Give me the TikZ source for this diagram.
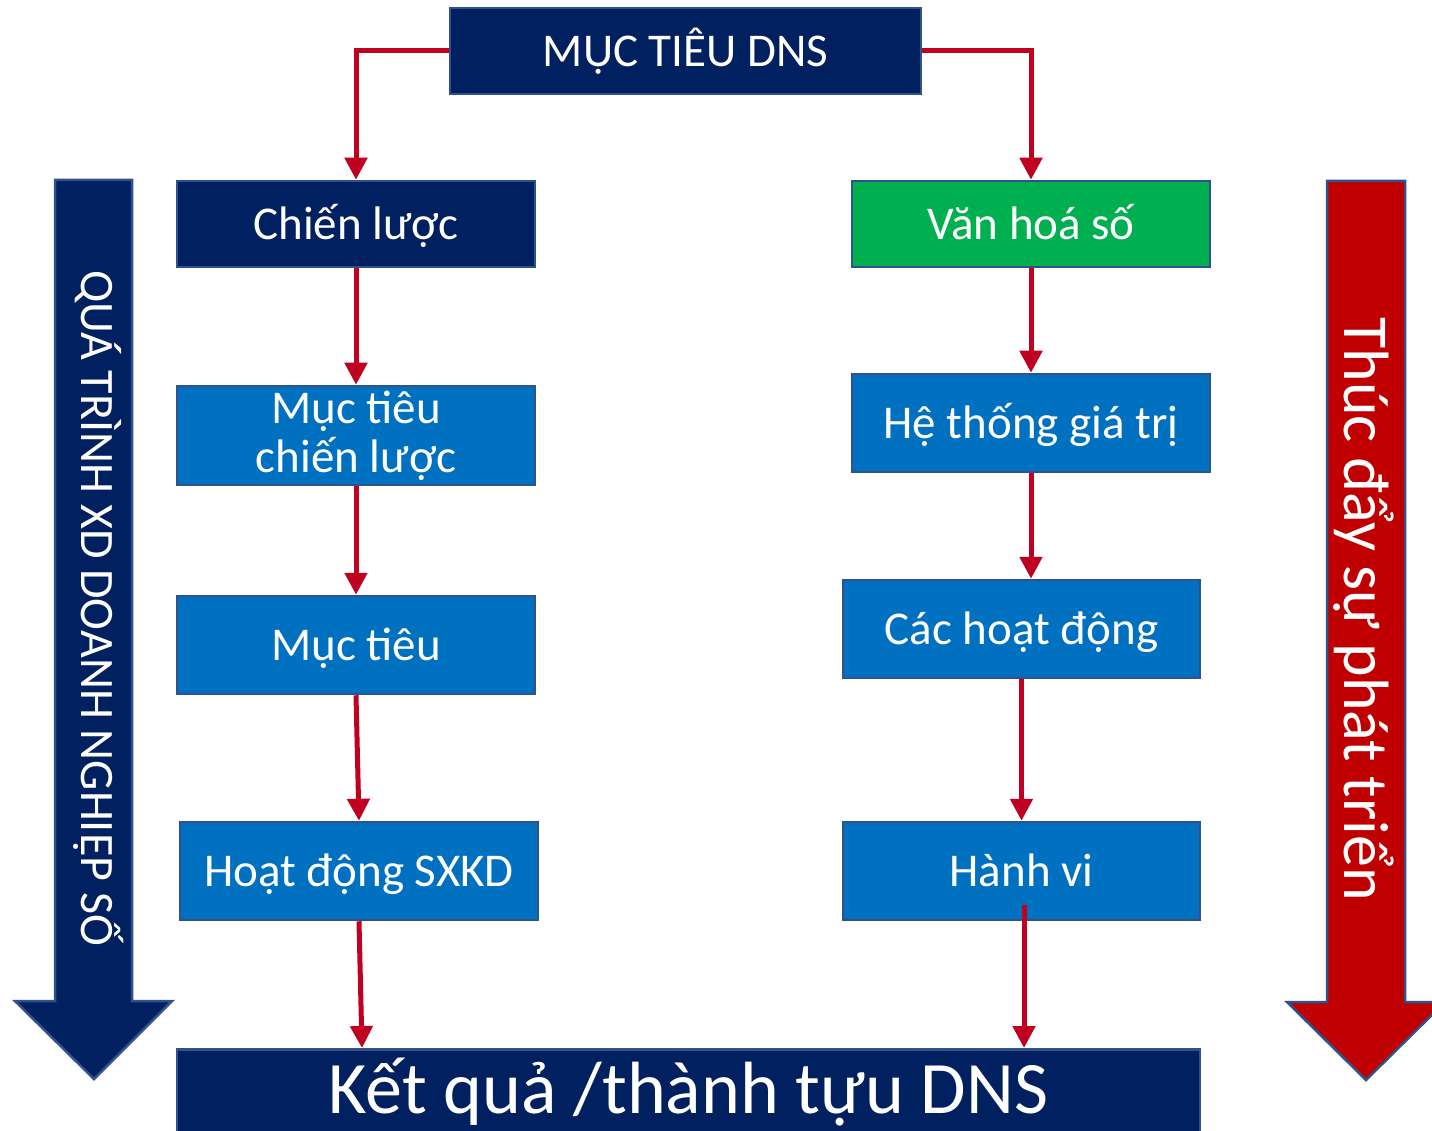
\documentclass[tikz,border=0pt]{standalone}
\usepackage{fontspec}
\setmainfont{Carlito}
\usetikzlibrary{arrows.meta,calc}
\definecolor{navy}{RGB}{0,32,96}
\definecolor{midblue}{RGB}{0,112,192}
\definecolor{okgreen}{RGB}{0,176,80}
\definecolor{darkred}{RGB}{192,0,0}
\definecolor{linkred}{RGB}{192,0,32}
\definecolor{edgeblue}{RGB}{47,82,143}
\tikzset{
  box/.style={draw=edgeblue, line width=2.5pt, text=white, align=center,
    inner sep=0pt, font=\fontsize{47}{49}\selectfont},
  oneline/.style={text height=31pt, text depth=0pt},
  link/.style={draw=linkred, line width=5pt,
    -{Triangle[width=22pt,length=22pt]}},
  bigarrow/.style={draw=edgeblue, line width=2.5pt, line join=miter},
}
\begin{document}
\begin{tikzpicture}[x=1pt,y=-1pt]
\useasboundingbox (0,0) rectangle (1432,1131);
\clip (0,0) rectangle (1432,1131);

% big side arrows
\draw[bigarrow, fill=navy] (55,180) -- (132,180) -- (132,1001) -- (172,1001) -- (94,1079) -- (15,1001) -- (55,1001) -- cycle;
\draw[bigarrow, fill=darkred] (1327,181) -- (1405,181) -- (1405,1002) -- (1445,1002) -- (1366,1080) -- (1287,1002) -- (1327,1002) -- cycle;
\node[text=white, rotate=-90, font=\fontsize{48}{54}\selectfont] (lefttxt) at (99,608) {QUÁ TRÌNH XD DOANH NGHIỆP SỐ};
\node[text=white, rotate=-90, font=\fontsize{64}{72}\selectfont] (righttxt) at (1364,609) {Thúc đẩy sự phát triển};

% boxes
\node[box, oneline, fill=navy, minimum width=471pt, minimum height=86pt] (top) at (685.5,51) {MỤC TIÊU DNS};
\node[box, oneline, fill=navy, minimum width=358pt, minimum height=86pt] (chien) at (356,224) {Chiến lược};
\node[box, oneline, fill=okgreen, minimum width=358pt, minimum height=86pt] (van) at (1031,224) {Văn hoá số};
\node[box, fill=midblue, minimum width=358pt, minimum height=99pt] (mtcl) at (356,435.5) {Mục tiêu\\chiến lược};
\node[box, oneline, fill=midblue, minimum width=358pt, minimum height=98pt] (heth) at (1031,423) {Hệ thống giá trị};
\node[box, oneline, fill=midblue, minimum width=358pt, minimum height=98pt] (mt) at (356,645) {Mục tiêu};
\node[box, oneline, fill=midblue, minimum width=357pt, minimum height=98pt] (cachd) at (1021.5,629) {Các hoạt động};
\node[box, oneline, fill=midblue, minimum width=358pt, minimum height=98pt] (sxkd) at (359,871) {Hoạt động SXKD};
\node[box, oneline, fill=midblue, minimum width=357pt, minimum height=98pt] (hv) at (1021.5,871) {Hành vi};
\node[box, fill=navy, minimum width=1023pt, minimum height=120pt, anchor=north,
  text height=47pt, text depth=39pt, font=\fontsize{74}{80}\selectfont] (kq) at (688.5,1048) {Kết quả /thành tựu DNS};

% coordinates for connector ends
\coordinate (kqL) at (362,1048);
\coordinate (hvS) at (1024,905);
\coordinate (kqR) at (1024,1048);

% connectors
\draw[link] (top.west) -| (chien.north);
\draw[link] (top.east) -| (van.north);
\draw[link] (chien.south) -- (mtcl.north);
\draw[link] (mtcl.south) -- (mt.north);
\draw[link] (mt.south) -- (sxkd.north);
\draw[link] (sxkd.south) -- (kqL);
\draw[link] (van.south) -- (heth.north);
\draw[link] (heth.south) -- (heth.south |- cachd.north);
\draw[link] (cachd.south) -- (hv.north);
\draw[link] (hvS) -- (kqR);
\end{tikzpicture}
\end{document}
